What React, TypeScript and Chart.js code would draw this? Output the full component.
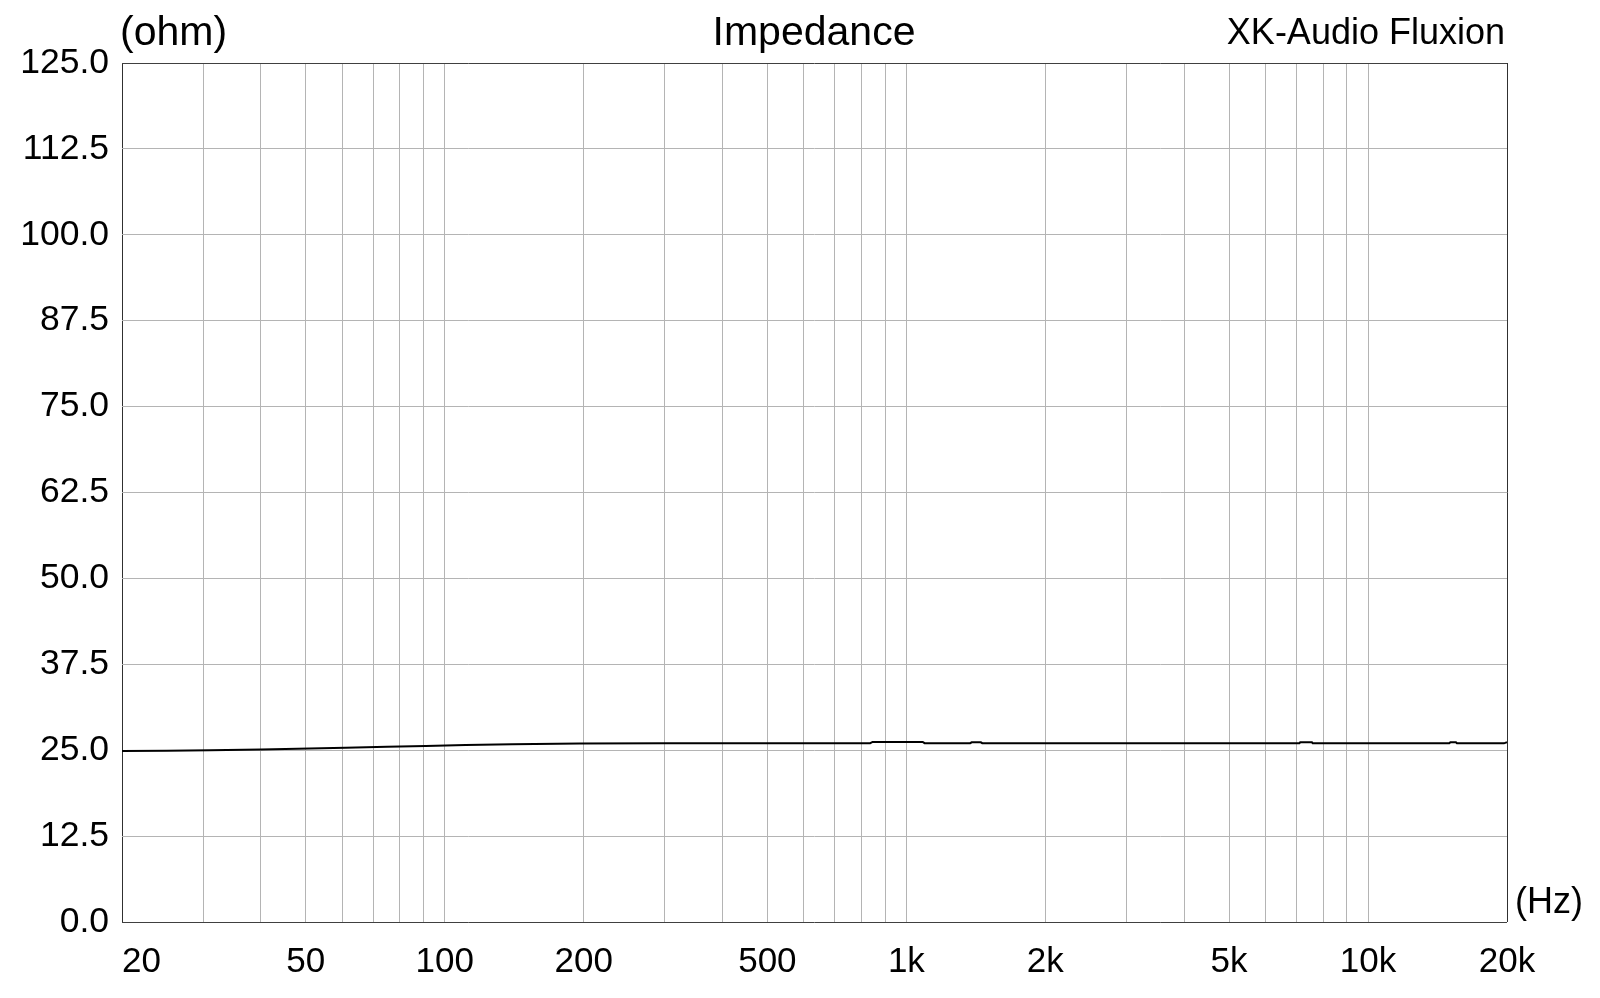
import React, { useEffect, useRef } from 'react';
import { Chart, registerables } from 'chart.js';

Chart.register(...registerables);

// Frequency (Hz) and impedance (ohm)
const freqs = [20, 25, 31, 40, 48, 61, 75, 91, 111, 140, 196, 300, 500, 835, 845, 1085, 1095, 1375, 1385, 1450, 1460, 3000, 7100, 7130, 7560, 7590, 15000, 15080, 15500, 15580, 19700, 20000];
const impedance = [24.88, 24.92, 25.0, 25.12, 25.22, 25.36, 25.5, 25.62, 25.75, 25.86, 25.98, 26.02, 26.02, 26.02, 26.2, 26.2, 26.02, 26.02, 26.15, 26.15, 26.02, 26.0, 26.0, 26.15, 26.15, 26.0, 26.0, 26.15, 26.15, 26.0, 26.0, 26.15];

const yTicks = [0, 12.5, 25, 37.5, 50, 62.5, 75, 87.5, 100, 112.5, 125];
const xGridFreqs = [20, 30, 40, 50, 60, 70, 80, 90, 100, 200, 300, 400, 500, 600, 700, 800, 900, 1000, 2000, 3000, 4000, 5000, 6000, 7000, 8000, 9000, 10000, 20000];
const xLabelFreqs = [20, 50, 100, 200, 500, 1000, 2000, 5000, 10000, 20000];
const xLabelTexts = ['    20', '50', '100', '200', '500', '1k', '2k', '5k', '10k', '20k'];

const FONT = '"Liberation Sans", Arial, sans-serif';

const textPlugin = {
  id: 'texts',
  afterDraw(chart: any) {
    const ctx = chart.ctx;
    ctx.save();
    ctx.fillStyle = '#000';
    ctx.textBaseline = 'alphabetic';
    ctx.font = `41px ${FONT}`;
    ctx.textAlign = 'left';
    ctx.fillText('(ohm)', 120, 45);
    ctx.font = `41px ${FONT}`;
    ctx.textAlign = 'center';
    ctx.fillText('Impedance', 814, 45);
    ctx.font = `36px ${FONT}`;
    ctx.textAlign = 'right';
    ctx.fillText('XK-Audio Fluxion', 1505, 44);
    ctx.font = `36px ${FONT}`;
    ctx.textAlign = 'left';
    ctx.fillText('(Hz)', 1515, 913);
    ctx.restore();
  },
};

export default function App() {
  const ref = useRef<HTMLCanvasElement | null>(null);

  useEffect(() => {
    document.body.style.margin = '0';
    const canvas = ref.current;
    if (!canvas) return;
    const chart = new Chart(canvas, {
      type: 'line',
      data: {
        datasets: [
          {
            data: freqs.map((f, i) => ({ x: f, y: impedance[i] })),
            borderColor: '#000',
            borderWidth: 2,
            pointRadius: 0,
            fill: false,
            tension: 0,
          },
        ],
      },
      options: {
        responsive: false,
        maintainAspectRatio: false,
        animation: false,
        layout: { padding: { top: 63, right: 93, left: 0, bottom: 0 } },
        plugins: {
          legend: { display: false },
          tooltip: { enabled: false },
          title: { display: false },
        },
        scales: {
          x: {
            type: 'logarithmic',
            min: 20,
            max: 20000,
            afterBuildTicks: (s: any) => {
              s.ticks = xGridFreqs.map((v) => ({ value: v }));
            },
            afterFit: (s: any) => {
              s.height = 76;
            },
            ticks: {
              autoSkip: false,
              maxRotation: 0,
              minRotation: 0,
              padding: 19,
              color: '#000',
              font: { family: FONT, size: 35 },
              callback: (v: any) => {
                const idx = xLabelFreqs.indexOf(Number(v));
                return idx >= 0 ? xLabelTexts[idx] : '';
              },
            },
            grid: {
              drawTicks: false,
              lineWidth: 1,
              color: (c: any) => {
                const v = c.tick ? c.tick.value : null;
                return v === 20 || v === 20000 ? '#303030' : '#b4b4b4';
              },
            },
            border: { display: false },
          },
          y: {
            type: 'linear',
            min: 0,
            max: 125,
            afterBuildTicks: (s: any) => {
              s.ticks = yTicks.map((v) => ({ value: v }));
            },
            afterFit: (s: any) => {
              s.width = 122;
            },
            ticks: {
              padding: 13,
              color: '#000',
              font: { family: FONT, size: 35.5 },
              callback: (v: any) => Number(v).toFixed(1),
            },
            grid: {
              drawTicks: false,
              lineWidth: 1,
              color: (c: any) => {
                const v = c.tick ? c.tick.value : null;
                return v === 0 || v === 125 ? '#404040' : '#b4b4b4';
              },
            },
            border: { display: false },
          },
        },
      },
      plugins: [textPlugin],
    } as any);
    return () => chart.destroy();
  }, []);

  return (
    <div style={{ width: 1600, height: 998, background: '#fff' }}>
      <canvas ref={ref} width={1600} height={998} style={{ display: 'block', width: 1600, height: 998 }} />
    </div>
  );
}
